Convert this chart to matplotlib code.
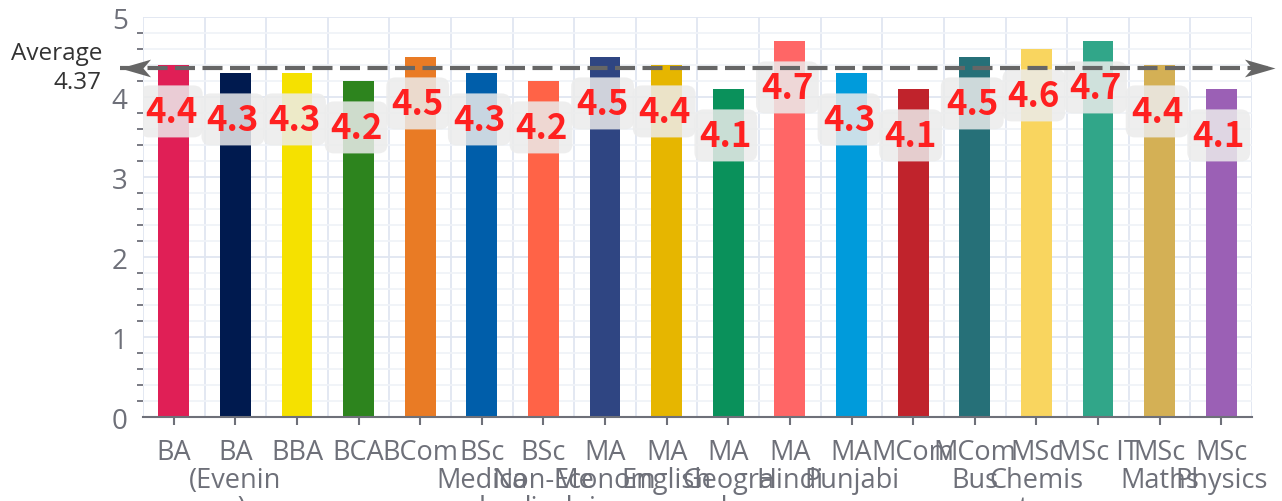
import matplotlib
matplotlib.use('Agg')
import matplotlib.pyplot as plt
from matplotlib.path import Path
from matplotlib.patches import FancyBboxPatch
from matplotlib.transforms import blended_transform_factory
import numpy as np

# data
categories = ['BA', 'BA\n(Evenin\ng)', 'BBA', 'BCA', 'BCom', 'BSc\nMedica\nl',
              'BSc\nNon-Me\ndical', 'MA\nEconom\nics', 'MA\nEnglish',
              'MA\nGeogra\nphy', 'MA\nHindi', 'MA\nPunjabi', 'MCom',
              'MCom\nBus\n.', 'MSc\nChemis\ntry', 'MSc IT', 'MSc\nMaths',
              'MSc\nPhysics']
ratings = [4.4, 4.3, 4.3, 4.2, 4.5, 4.3, 4.2, 4.5, 4.4, 4.1,
           4.7, 4.3, 4.1, 4.5, 4.6, 4.7, 4.4, 4.1]
bar_colors = ['#e01f56', '#001a4f', '#f5e100', '#2d841e', '#e97b25', '#005eaa',
              '#ff6347', '#2f4582', '#e6b600', '#0a915b', '#ff6666', '#009bdb',
              '#c0232c', '#267078', '#f9d55f', '#31a689', '#d4b055', '#9b60b5']
y_ticks = [0, 1, 2, 3, 4, 5]

axis_grey = '#6e7079'

fig = plt.figure(figsize=(12.82, 5.02), dpi=100)
ax = fig.add_axes([0.1115, 0.1673, 0.8651, 0.7968])

x = np.arange(len(categories))
ax.bar(x, ratings, width=0.5, color=bar_colors, zorder=3)

ax.set_xlim(-0.5, len(categories) - 0.5)
ax.set_ylim(0, 5)

# ticks
ax.set_xticks(x)
ax.set_xticklabels(categories, fontsize=19.5, family='Open Sans', color=axis_grey,
                   linespacing=1.0, va='top')
ax.set_xticks(np.arange(-0.5, len(categories), 1), minor=True)
ax.set_yticks(y_ticks)
ax.set_yticklabels([str(t) for t in y_ticks], fontsize=20, family='Open Sans',
                   color=axis_grey)
ax.set_yticks([t for t in np.arange(0, 5.01, 0.2) if abs(t - round(t)) > 1e-6],
              minor=True)
ax.tick_params(axis='x', which='major', length=6, width=1.5, color=axis_grey, pad=9)
ax.tick_params(axis='x', which='minor', length=0)
ax.tick_params(axis='y', which='major', length=0, pad=11)
ax.tick_params(axis='y', which='minor', length=4.5, width=1.3, color=axis_grey)

# grid
ax.grid(axis='x', which='minor', color='#e0e6f1', lw=1.3, zorder=0)
ax.grid(axis='y', which='major', color='#e0e6f1', lw=1.3, zorder=0)
ax.grid(axis='y', which='minor', color='#f0f3f8', lw=1.3, zorder=0)
ax.set_axisbelow(True)

for s in ['top', 'right', 'left']:
    ax.spines[s].set_visible(False)
ax.spines['bottom'].set_color(axis_grey)
ax.spines['bottom'].set_linewidth(1.5)
ax.spines['bottom'].set_zorder(4)

# value labels in rounded boxes
box_w, box_h = 1.02, 0.65
for i, v in enumerate(ratings):
    cx, cy = i - 0.04, v - 0.58
    ax.add_patch(FancyBboxPatch((cx - box_w / 2, cy - box_h / 2), box_w, box_h,
                                boxstyle='round,pad=0,rounding_size=0.15',
                                mutation_aspect=0.75, fc='#ececec', ec='none',
                                alpha=0.85, zorder=5))
    ax.text(cx, cy, '%.1f' % v, ha='center', va='center',
            fontsize=25, fontweight='bold', family=['Noto Sans CJK SC', 'DejaVu Sans'],
            color='#ff2020', zorder=5.5)

# average mark line
avg = np.mean(ratings)
trans = blended_transform_factory(ax.transAxes, ax.transData)
ax.plot([-0.021, 1.021], [avg, avg], transform=trans, color='#666666', lw=3,
        dashes=(4.8, 1.8), clip_on=False, zorder=6)
codes = [Path.MOVETO, Path.LINETO, Path.LINETO, Path.LINETO, Path.CLOSEPOLY]
right_head = Path([(0, 0), (-1, -0.29), (-0.75, 0), (-1, 0.29), (0, 0)], codes)
left_head = Path([(0, 0), (1, -0.29), (0.75, 0), (1, 0.29), (0, 0)], codes)
ax.plot([1.021], [avg], transform=trans, marker=right_head, ms=44, color='#666666',
        mec='none', clip_on=False, zorder=7)
ax.plot([-0.021], [avg], transform=trans, marker=left_head, ms=44, color='#666666',
        mec='none', clip_on=False, zorder=7)
ax.text(-0.037, avg, 'Average\n%.2f' % avg, transform=trans, ha='right',
        va='center', multialignment='right', fontsize=17.5, family='Open Sans',
        color='#333333', linespacing=1.25)

fig.savefig('out.png', dpi=100)
